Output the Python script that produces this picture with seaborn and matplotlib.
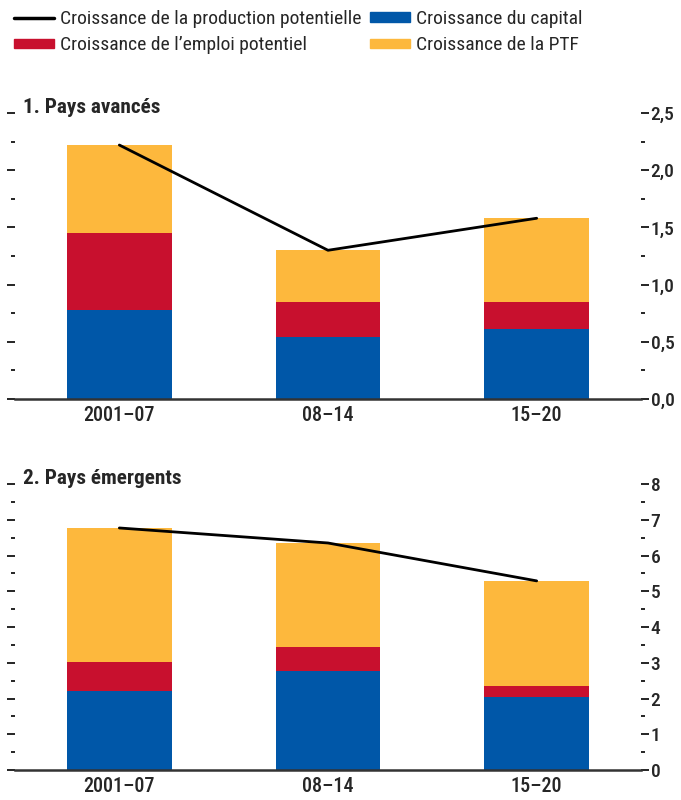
import numpy as np
import pandas as pd
import matplotlib
matplotlib.use("Agg")
import matplotlib.pyplot as plt
import seaborn as sns
from matplotlib import font_manager
from matplotlib.patches import Patch
from matplotlib.lines import Line2D
from matplotlib.ticker import MultipleLocator

sns.set_style("white")

# condensed font close to the original (Univers Condensed)
installed = {f.name for f in font_manager.fontManager.ttflist}
wanted = ["Roboto Condensed", "Archivo Narrow", "Liberation Sans Narrow",
          "PT Sans Narrow", "Fira Sans Condensed", "Liberation Sans"]
font = next((f for f in wanted if f in installed), "DejaVu Sans")
plt.rcParams['font.family'] = [font, 'DejaVu Sans']
plt.rcParams['font.weight'] = 500

periods = ["2001–07", "08–14", "15–20"]

# 1. Pays avancés
adv_capital = [0.78, 0.54, 0.61]
adv_emploi = [0.67, 0.31, 0.24]
adv_ptf = [0.77, 0.45, 0.73]
adv_potentiel = [2.22, 1.30, 1.58]

# 2. Pays émergents
em_capital = [2.21, 2.77, 2.04]
em_emploi = [0.81, 0.67, 0.31]
em_ptf = [3.75, 2.91, 2.94]
em_potentiel = [6.77, 6.35, 5.29]

blue = "#0057a8"
red = "#c8102e"
yellow = "#fdb83d"

fig = plt.figure(figsize=(6.81, 8), dpi=100)
ax1 = fig.add_axes([15/681, 1-399/800, (641-15)/681, (399-113)/800])
ax2 = fig.add_axes([15/681, 1-770/800, (641-15)/681, (770-484)/800])


def panel(ax, capital, emploi, ptf, potentiel, top, major, minor, fmt, title):
    df = pd.DataFrame({"periode": periods, "capital": capital,
                       "emploi": emploi, "ptf": ptf})
    df["c1"] = df["capital"]
    df["c2"] = df["c1"] + df["emploi"]
    df["c3"] = df["c2"] + df["ptf"]
    for col, c in [("c3", yellow), ("c2", red), ("c1", blue)]:
        sns.barplot(data=df, x="periode", y=col, color=c, width=0.5,
                    saturation=1, ax=ax, linewidth=0)
    sns.lineplot(x=np.arange(len(periods)), y=potentiel, color="black",
                 linewidth=2, ax=ax)
    ax.set_xlim(-0.5, 2.5)
    ax.set_ylim(0, top)
    ax.set_xlabel("")
    ax.set_ylabel("")
    for s in ["top", "left", "right"]:
        ax.spines[s].set_visible(False)
    ax.spines["bottom"].set_color("#333333")
    ax.spines["bottom"].set_linewidth(1.8)
    ax.yaxis.set_major_locator(MultipleLocator(major))
    ax.yaxis.set_minor_locator(MultipleLocator(minor))
    ax.yaxis.set_major_formatter(plt.FuncFormatter(fmt))
    ax.tick_params(axis="y", which="both", left=True, right=True,
                   labelleft=False, labelright=True, direction="out",
                   width=1.2, color="black", labelsize=14, pad=1)
    ax.tick_params(axis="y", which="major", length=6)
    ax.tick_params(axis="y", which="minor", length=3)
    ax.tick_params(axis="x", length=0, labelsize=14.5, pad=5)
    ax.text(0.012, 1.018, title, transform=ax.transAxes, fontsize=15.3,
            fontweight="bold", va="center", ha="left")


panel(ax1, adv_capital, adv_emploi, adv_ptf, adv_potentiel, 2.5, 0.5, 0.25,
      lambda v, p: f"{v:.1f}".replace(".", ","), "1. Pays avancés")
panel(ax2, em_capital, em_emploi, em_ptf, em_potentiel, 8, 1, 0.5,
      lambda v, p: f"{v:.0f}", "2. Pays émergents")

handles = [Line2D([], [], color="black", linewidth=2.5),
           Patch(color=red),
           Patch(color=blue),
           Patch(color=yellow)]
labels = ["Croissance de la production potentielle",
          "Croissance de l’emploi potentiel",
          "Croissance du capital",
          "Croissance de la PTF"]
fig.legend(handles, labels, ncol=2, loc="upper left",
           bbox_to_anchor=(0.0, 1.005), frameon=False,
           prop={"size": 14, "weight": "normal"},
           handlelength=2.1, handleheight=0.4, handletextpad=0.3,
           columnspacing=0.4, labelspacing=0.45, borderaxespad=0.3)

fig.savefig("out.png", dpi=100)
